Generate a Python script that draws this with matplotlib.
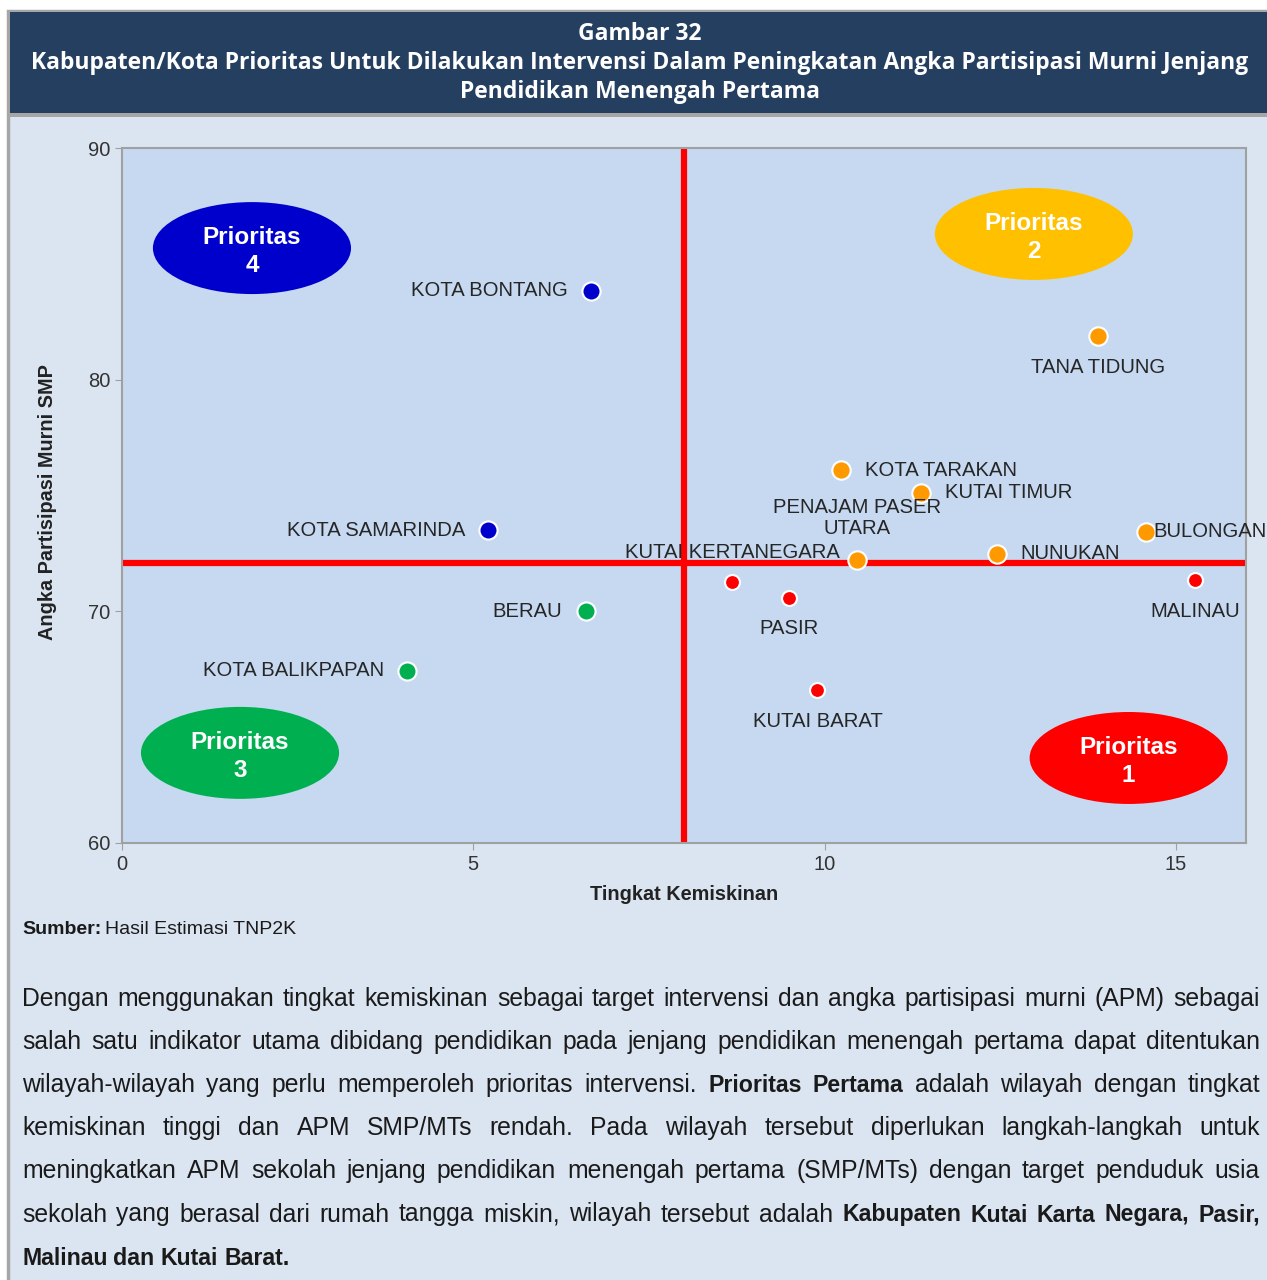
import matplotlib.pyplot as plt
from matplotlib.patches import Ellipse, Rectangle

plt.rcParams['font.family'] = ['Liberation Sans', 'DejaVu Sans']

# data
names = ['KOTA BONTANG', 'KOTA SAMARINDA', 'BERAU', 'KOTA BALIKPAPAN',
         'TANA TIDUNG', 'KOTA TARAKAN', 'KUTAI TIMUR', 'PENAJAM PASER\nUTARA',
         'NUNUKAN', 'BULONGAN', 'KUTAI KERTANEGARA', 'PASIR', 'MALINAU', 'KUTAI BARAT']
kemiskinan = [6.68, 5.21, 6.61, 4.06, 13.89, 10.23, 11.38, 10.46, 12.45, 14.57, 8.69, 9.49, 15.28, 9.90]
apm = [83.83, 73.51, 70.00, 67.43, 81.89, 76.10, 75.11, 72.22, 72.48, 73.43, 71.27, 70.58, 71.35, 66.61]
prioritas = [4, 4, 3, 3, 2, 2, 2, 2, 2, 2, 1, 1, 1, 1]
batas_kemiskinan = 8.0
batas_apm = 72.1
x_ticks = [0, 5, 10, 15]
y_ticks = [60, 70, 80, 90]

# label placement (pixel offsets from the dot) and alignment
label_pos = [(-24, 0, 'right'), (-23, 0, 'right'), (-24, 0, 'right'), (-23, 0, 'right'),
             (0, -32, 'center'), (24, 0, 'left'), (24, 0, 'left'), (0, 42, 'center'),
             (24, 0, 'left'), (8, 0, 'left'), (0, 29, 'center'), (0, -31, 'center'),
             (0, -31, 'center'), (0, -32, 'center')]

dot_color = {1: '#FF0000', 2: '#FF9900', 3: '#00B050', 4: '#0000CC'}
oval_color = {1: '#FF0000', 2: '#FFC000', 3: '#00B050', 4: '#0000CC'}
dot_size = {1: 115, 2: 175, 3: 170, 4: 170}
# oval centre (data units) per priority
oval_xy = {4: (1.85, 85.68), 2: (12.98, 86.29), 3: (1.68, 63.89), 1: (14.33, 63.67)}

W, H = 1267, 1280


def fx(p):
    return p / W


def fy(p):
    return 1 - p / H


fig = plt.figure(figsize=(W / 100, H / 100), dpi=100)
fig.patch.set_facecolor('white')

# page frame + header band
fig.add_artist(Rectangle((fx(8), fy(1400)), 1.2, fy(11) - fy(1400), transform=fig.transFigure,
                         fc='#DBE5F1', ec='#A6A6A6', lw=2.5, zorder=0))
fig.add_artist(Rectangle((fx(10), fy(117)), 1.2, fy(113) - fy(117), transform=fig.transFigure,
                         fc='#A6A6A6', ec='none', zorder=0))
fig.add_artist(Rectangle((fx(10), fy(113)), 1.2, fy(12) - fy(113), transform=fig.transFigure,
                         fc='#243F60', ec='none', zorder=0))

r = fig.canvas.get_renderer()
title_lines = ['Gambar 32',
               'Kabupaten/Kota Prioritas Untuk Dilakukan Intervensi Dalam Peningkatan Angka Partisipasi Murni Jenjang',
               'Pendidikan Menengah Pertama']
title_y = [34, 63, 92]
probe = fig.text(0, 0, title_lines[1], fontsize=16, family='Open Sans', fontweight='bold')
tsize = 16 * 1217 / probe.get_window_extent(r).width
probe.remove()
for s, y in zip(title_lines, title_y):
    fig.text(fx(640), fy(y), s, ha='center', va='center', color='white', fontsize=tsize,
             family='Open Sans', fontweight='bold')

# the chart
ax = fig.add_axes([fx(122), fy(843), fx(1246) - fx(122), fy(148) - fy(843)])
ax.set_facecolor('#C6D9F1')
ax.set_xlim(0, 16)
ax.set_ylim(60, 90)
ax.set_xticks(x_ticks)
ax.set_yticks(y_ticks)
for sp in ax.spines.values():
    sp.set_color('#A0A0A0')
    sp.set_linewidth(1.5)
ax.tick_params(direction='out', length=5, color='#A0A0A0', labelcolor='#333333', labelsize=14.5)
ax.set_xlabel('Tingkat Kemiskinan', fontsize=14.3, fontweight='bold', color='#222222')
ax.set_ylabel('Angka Partisipasi Murni SMP', fontsize=14.3, fontweight='bold', color='#222222')
ax.xaxis.set_label_coords(0.5, -0.061)
ax.yaxis.set_label_coords(-0.058, 0.49)

ax.axvline(batas_kemiskinan, color='#FF0000', lw=4.5, zorder=2)
ax.axhline(batas_apm, color='#FF0000', lw=4.5, zorder=2)

for p, (cx, cy) in oval_xy.items():
    ax.add_patch(Ellipse((cx, cy), 2.82, 3.97, fc=oval_color[p], ec='none', zorder=1))
    ax.text(cx, cy - 0.15, 'Prioritas\n' + str(p), ha='center', va='center', color='white',
            fontsize=17.5, fontweight='bold', linespacing=1.3, zorder=4)

for n, x, y, p, (dx, dy, ha) in zip(names, kemiskinan, apm, prioritas, label_pos):
    ax.scatter(x, y, s=dot_size[p], c=dot_color[p], edgecolors='white', linewidths=1.5, zorder=3)
    ax.annotate(n, (x, y), xytext=(dx, dy), textcoords='offset pixels', ha=ha, va='center',
                fontsize=14.6, color='#262626', linespacing=1.15,
                multialignment='center', zorder=4)

# source line
src = fig.text(fx(22), fy(934), 'Sumber:', fontsize=14, fontweight='bold',
               color='#1a1a1a', va='baseline')
sw = src.get_window_extent(r).width
fig.text(fx(22 + sw + 4), fy(934), 'Hasil Estimasi TNP2K', fontsize=14,
         color='#1a1a1a', va='baseline')

# justified paragraph; segments marked bold with True
para = [
    [('Dengan menggunakan tingkat kemiskinan sebagai target intervensi dan angka partisipasi murni (APM) sebagai', False)],
    [('salah satu indikator utama dibidang pendidikan pada jenjang pendidikan menengah pertama dapat ditentukan', False)],
    [('wilayah-wilayah yang perlu memperoleh prioritas intervensi.', False), ('Prioritas Pertama', True),
     ('adalah wilayah dengan tingkat', False)],
    [('kemiskinan tinggi dan APM SMP/MTs rendah. Pada wilayah tersebut diperlukan langkah-langkah untuk', False)],
    [('meningkatkan APM sekolah jenjang pendidikan menengah pertama (SMP/MTs) dengan target penduduk usia', False)],
    [('sekolah yang berasal dari rumah tangga miskin, wilayah tersebut adalah', False),
     ('Kabupaten Kutai Karta Negara, Pasir,', True)],
    [('Malinau dan Kutai Barat.', True)],
]
base_y = 1006
left, right = 22, 1260
for i, line in enumerate(para):
    y = base_y + i * 43.1
    texts, widths = [], []
    for seg, bold in line:
        for w in seg.split():
            t = fig.text(0, fy(y), w, fontsize=16.7 if bold else 17.8,
                         fontweight='bold' if bold else 'normal', color='#1a1a1a', va='baseline')
            texts.append(t)
            widths.append(t.get_window_extent(r).width)
    if i == len(para) - 1:
        gap = 6.0
    else:
        gap = (right - left - sum(widths)) / (len(texts) - 1)
    xpos = left
    for t, w in zip(texts, widths):
        t.set_x(fx(xpos))
        xpos += w + gap

fig.savefig('out.png', dpi=100, facecolor=fig.get_facecolor())
